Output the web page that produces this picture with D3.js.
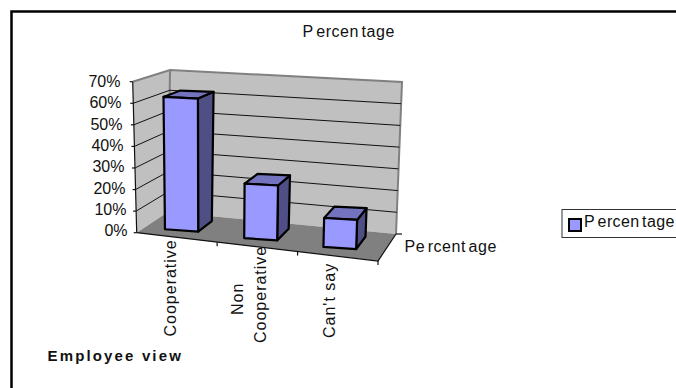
<!DOCTYPE html>
<html><head><meta charset="utf-8">
<script src="https://cdnjs.cloudflare.com/ajax/libs/d3/7.8.5/d3.min.js"></script>
<style>html,body{margin:0;padding:0;background:#fff}svg{display:block}text{font-family:"Liberation Sans",Arial,sans-serif;fill:#111}</style>
</head><body><svg id="chart" width="676" height="388"></svg>
<script>
const categories = ["Cooperative", "Non Cooperative", "Can't say"];
const values = [62, 25, 13];
const yTicks = [0, 10, 20, 30, 40, 50, 60, 70];
const seriesName = "Percentage";
const axisTitle = "Employee view";

const svg = d3.select("#chart");
const FS = 16;

// Corners of the 3D box: f/b = front/back, l/r = left/right, 0/1 = floor/top.
const box = {
  fl0:[136.7,232.7], fr0:[378,261], bl0:[168,212], br0:[396,234],
  fl1:[132.7,81.7],  fr1:[384,100], bl1:[170,70],  br1:[402,82]
};
const mix = (a,b,t)=>[a[0]+(b[0]-a[0])*t, a[1]+(b[1]-a[1])*t];
function project(u,v,w){
  const f0=mix(box.fl0,box.fr0,u), b0=mix(box.bl0,box.br0,u);
  const f1=mix(box.fl1,box.fr1,u), b1=mix(box.bl1,box.br1,u);
  return mix(mix(f0,b0,v), mix(f1,b1,v), w);
}
const yScale = d3.scaleLinear().domain([0,70]).range([0,1]);
const labelRight = d3.scaleLinear().domain([0,70]).range([127.5,120.5]);
const labelDrop = d3.scaleLinear().domain([0,70]).range([3.5,5.5]);
const uScale = d3.scaleBand().domain(categories).range([-0.017,0.983]).paddingInner(0.6).paddingOuter(0.3);
const poly = pts => "M"+pts.map(p=>p.join(",")).join("L")+"Z";

// Writes a word in separated runs, the way the labels are kerned in this chart.
function spaced(x,y,word,cuts,gap,spacing){
  const t=svg.append("text").attr("x",x).attr("y",y).attr("font-size",FS).attr("letter-spacing",spacing);
  let prev=0;
  [...cuts,word.length].forEach((c,i)=>{
    t.append("tspan").attr("dx",i?gap:0).text(word.slice(prev,c));
    prev=c;
  });
  return t;
}

// Walls and floor
const wallGroup = svg.append("g");
wallGroup.append("path").attr("d",poly([project(0,0,0),project(0,1,0),project(0,1,1),project(0,0,1)])).attr("fill","#c0c0c0");
wallGroup.append("path").attr("d",poly([project(0,1,0),project(1,1,0),project(1,1,1),project(0,1,1)])).attr("fill","#c0c0c0");
wallGroup.append("path").attr("d",poly([project(0,0,0),project(1,0,0),project(1,1,0),project(0,1,0)])).attr("fill","#808080");
// Wall edges
wallGroup.append("path").attr("d","M"+[project(0,0,1),project(0,1,1),project(1,1,1),project(1,1,0)].map(p=>p.join(",")).join("L")+"M"+project(0,1,1).join(",")+"L"+project(0,1,0).join(","))
  .attr("fill","none").attr("stroke","#808080").attr("stroke-width",2);
// Gridlines run along the side wall and the back wall
yTicks.slice(1,-1).forEach(t=>{
  const w=yScale(t);
  wallGroup.append("path").attr("d","M"+[project(0,0,w),project(0,1,w),project(1,1,w)].map(p=>p.join(",")).join("L"))
    .attr("fill","none").attr("stroke","#111").attr("stroke-width",1);
});
// Value axis
const axisG = svg.append("g").attr("fill","none").attr("stroke","#111").attr("stroke-width",1.2);
axisG.append("path").attr("d","M"+project(0,0,1).join(",")+"L"+project(0,0,0).join(","));
yTicks.forEach(t=>{
  const p=project(0,0,yScale(t));
  axisG.append("path").attr("d",`M${p[0]-3},${p[1]}L${p[0]},${p[1]}`);
  svg.append("text").attr("x",labelRight(t)).attr("y",p[1]+labelDrop(t)).attr("text-anchor","end").attr("font-size",FS).text(t+"%");
});
// Category axis and depth axis
axisG.append("path").attr("d","M"+project(0,0,0).join(",")+"L"+project(1,0,0).join(",")+"L"+project(1,1,0).join(","));
[1/3,2/3,1].forEach(u=>{
  const p=project(u,0,0);
  axisG.append("path").attr("d",`M${p[0]},${p[1]}L${p[0]},${p[1]+4}`);
});
const e=project(1,1,0);
axisG.append("path").attr("d",`M${e[0]},${e[1]}L${e[0]+6},${e[1]}`);

// Bars
const vFront=0.3, vBack=0.78, tilt=0.4;
const barColors={front:"#9999ff",top:"#7373c0",side:"#4f4f85"};
categories.forEach((c,i)=>{
  const u0=uScale(c), u1=u0+uScale.bandwidth(), uc=(u0+u1)/2, w=yScale(values[i]);
  const P=(u,v,h)=>project(u,v+tilt*(u-uc),h);
  const g=svg.append("g").attr("stroke","#000").attr("stroke-width",2.2).attr("stroke-linejoin","round");
  g.append("path").attr("fill",barColors.side).attr("d",poly([P(u1,vFront,0),P(u1,vBack,0),P(u1,vBack,w),P(u1,vFront,w)]));
  g.append("path").attr("fill",barColors.top).attr("d",poly([P(u0,vFront,w),P(u1,vFront,w),P(u1,vBack,w),P(u0,vBack,w)]));
  g.append("path").attr("fill",barColors.front).attr("d",poly([P(u0,vFront,0),P(u1,vFront,0),P(u1,vFront,w),P(u0,vFront,w)]));
});

// Category labels, rotated
const catLabel=(x,y,t)=>svg.append("text").attr("transform",`translate(${x},${y}) rotate(-90)`).attr("font-size",FS).attr("letter-spacing",1).text(t);
catLabel(175.5,336.5,"Cooperative");
catLabel(242.5,315,"Non");
catLabel(266,343,"Cooperative");
catLabel(334.5,338,"Can't say");

// Titles and legend
spaced(302.5,37,seriesName,[1,6],2.5,0.55);
spaced(404.5,252,seriesName,[2,7],2.5,0.55);
svg.append("text").attr("x",47.5).attr("y",361).attr("font-size",15).attr("font-weight","bold").attr("letter-spacing",2.15).text(axisTitle);
svg.append("rect").attr("x",562).attr("y",209.5).attr("width",116).attr("height",28).attr("fill","#fff").attr("stroke","#333");
svg.append("rect").attr("x",569).attr("y",219).attr("width",12).attr("height",12).attr("fill","#9999ff").attr("stroke","#000").attr("stroke-width",2);
spaced(584,226.5,seriesName,[1,6],2.5,0.4);

// Outer frame
svg.append("path").attr("d","M11.5,388V11.5H676").attr("fill","none").attr("stroke","#000").attr("stroke-width",2.5);
</script></body></html>
